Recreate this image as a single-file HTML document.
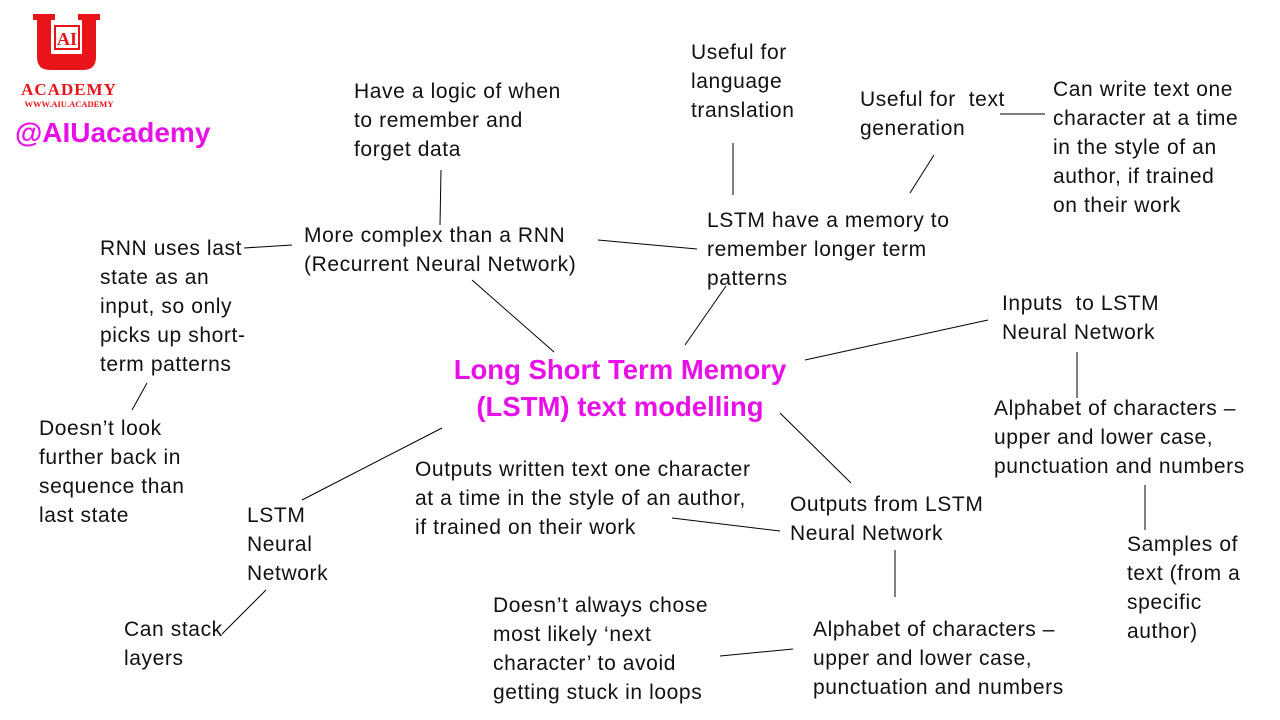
<!DOCTYPE html>
<html><head><meta charset="utf-8"><style>
body{margin:0;width:1280px;height:720px;background:#fff;position:relative;overflow:hidden;font-family:"Liberation Sans",Arial,sans-serif;}
.t{position:absolute;font-size:21px;letter-spacing:0.6px;line-height:29px;color:#111;white-space:nowrap;}
.title{position:absolute;left:400px;width:440px;top:351px;text-align:center;color:#e810e8;font-weight:bold;font-size:27.5px;line-height:37px;white-space:nowrap;}
svg{position:absolute;left:0;top:0;}
</style></head><body>
<svg width="1280" height="720">
<g stroke="#000" stroke-width="1">
<line x1="441" y1="170" x2="440" y2="225"/>
<line x1="733" y1="143" x2="733" y2="195"/>
<line x1="934" y1="155" x2="910" y2="193"/>
<line x1="1000" y1="114" x2="1045" y2="114"/>
<line x1="244" y1="248" x2="292" y2="245"/>
<line x1="598" y1="240" x2="697" y2="249"/>
<line x1="472" y1="280" x2="554" y2="352"/>
<line x1="726" y1="286" x2="685" y2="345"/>
<line x1="132" y1="410" x2="147" y2="383"/>
<line x1="805" y1="360" x2="988" y2="320"/>
<line x1="1077" y1="352" x2="1077" y2="398"/>
<line x1="780" y1="413" x2="851" y2="483"/>
<line x1="442" y1="428" x2="302" y2="500"/>
<line x1="1145" y1="485" x2="1145" y2="530"/>
<line x1="672" y1="518" x2="780" y2="531"/>
<line x1="895" y1="550" x2="895" y2="597"/>
<line x1="266" y1="590" x2="222" y2="634"/>
<line x1="720" y1="656" x2="793" y2="649"/>
</g>
<g fill="#e8141a">
<path d="M33 14h22v6h-4v34h31v-34h-4v-6h22v6h-4v37q0 13 -13 13h-33q-13 0 -13 -13v-37h-4z"/>
<rect x="55" y="26" width="24" height="23" fill="#fff" stroke="#e8141a" stroke-width="2"/>
<text x="67" y="45" font-family="Liberation Serif" font-weight="bold" font-size="18" text-anchor="middle">AI</text>
<text x="69" y="95" font-family="Liberation Serif" font-weight="bold" font-size="17" text-anchor="middle" letter-spacing="1">ACADEMY</text>
<text x="69" y="107" font-family="Liberation Serif" font-weight="bold" font-size="8.5" text-anchor="middle">WWW.AIU.ACADEMY</text>
</g>
<text x="15" y="142" fill="#e810e8" font-weight="bold" font-size="28" font-family="Liberation Sans">@AIUacademy</text>
</svg>
<div class="t" style="left:354px;top:77px">Have a logic of when<br>to remember and<br>forget data</div>
<div class="t" style="left:691px;top:38px">Useful for<br>language<br>translation</div>
<div class="t" style="left:860px;top:85px">Useful for&nbsp; text<br>generation</div>
<div class="t" style="left:1053px;top:75px">Can write text one<br>character at a time<br>in the style of an<br>author, if trained<br>on their work</div>
<div class="t" style="left:304px;top:221px">More complex than a RNN<br>(Recurrent Neural Network)</div>
<div class="t" style="left:707px;top:206px">LSTM have a memory to<br>remember longer term<br>patterns</div>
<div class="t" style="left:100px;top:234px">RNN uses last<br>state as an<br>input, so only<br>picks up short-<br>term patterns</div>
<div class="t" style="left:1002px;top:289px">Inputs&nbsp; to LSTM<br>Neural Network</div>
<div class="title">Long Short Term Memory<br>(LSTM) text modelling</div>
<div class="t" style="left:39px;top:414px">Doesn’t look<br>further back in<br>sequence than<br>last state</div>
<div class="t" style="left:994px;top:394px">Alphabet of characters –<br>upper and lower case,<br>punctuation and numbers</div>
<div class="t" style="left:415px;top:455px">Outputs written text one character<br>at a time in the style of an author,<br>if trained on their work</div>
<div class="t" style="left:790px;top:490px">Outputs from LSTM<br>Neural Network</div>
<div class="t" style="left:247px;top:501px">LSTM<br>Neural<br>Network</div>
<div class="t" style="left:1127px;top:530px">Samples of<br>text (from a<br>specific<br>author)</div>
<div class="t" style="left:124px;top:615px">Can stack<br>layers</div>
<div class="t" style="left:493px;top:591px">Doesn’t always chose<br>most likely ‘next<br>character’ to avoid<br>getting stuck in loops</div>
<div class="t" style="left:813px;top:615px">Alphabet of characters –<br>upper and lower case,<br>punctuation and numbers</div>
</body></html>
